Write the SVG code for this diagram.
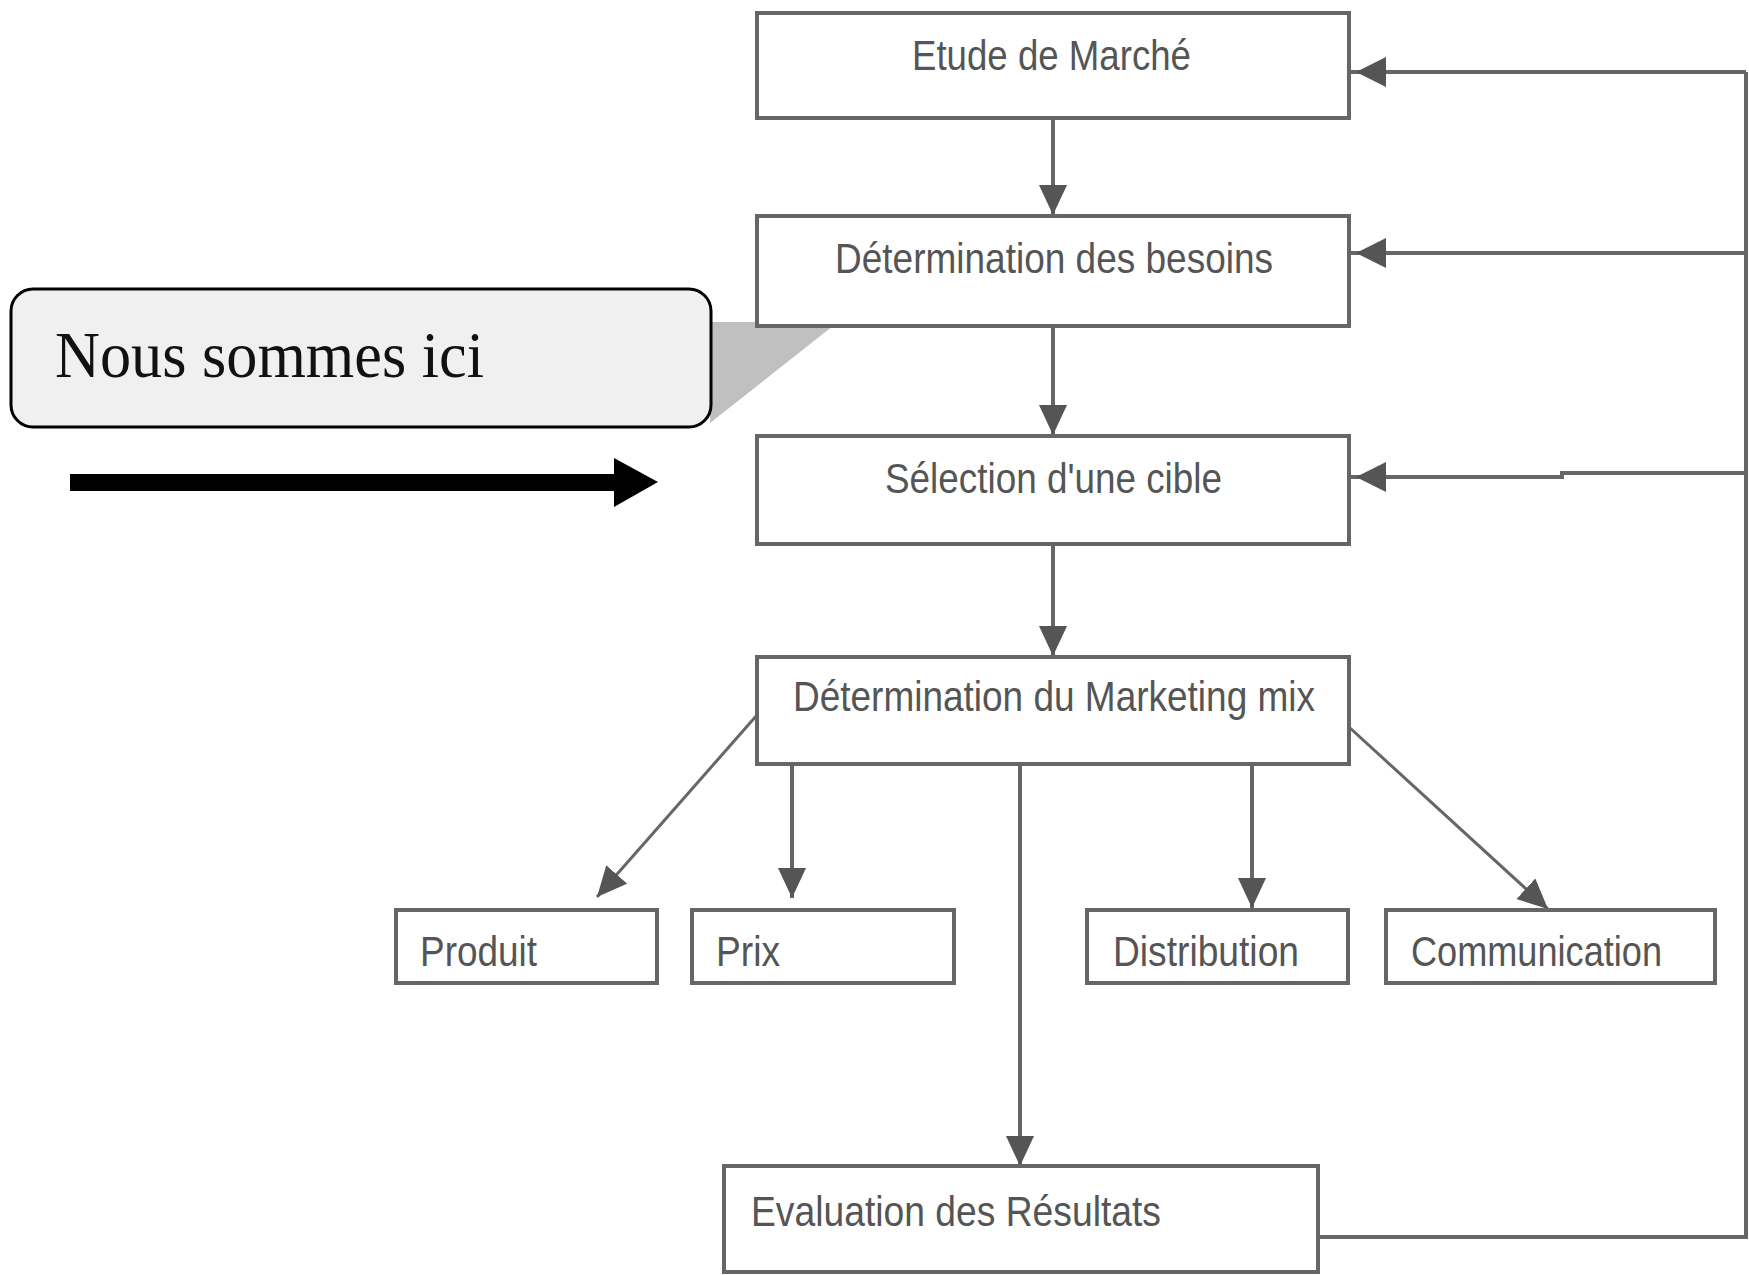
<svg xmlns="http://www.w3.org/2000/svg" width="1749" height="1275" viewBox="0 0 1749 1275">
  <defs>
    <style>
      .box { fill: #ffffff; stroke: #666666; stroke-width: 4; }
      .t { font-family: "Liberation Sans", Arial, sans-serif; font-size: 42px; fill: #555555; }
      .con { fill: none; stroke: #666666; stroke-width: 4; }
      .diag { fill: none; stroke: #666666; stroke-width: 3; }
    </style>
    <marker id="ah" markerUnits="userSpaceOnUse" markerWidth="40" markerHeight="30" refX="30" refY="14" orient="auto">
      <path d="M0,0 L30,14 L0,28 z" fill="#555555"/>
    </marker>
    <marker id="ahs" markerUnits="userSpaceOnUse" markerWidth="40" markerHeight="32" refX="36" refY="15" orient="auto">
      <path d="M0,0 L30,15 L0,30 z" fill="#555555"/>
    </marker>
  </defs>
  <rect width="1749" height="1275" fill="#ffffff"/>

  <g id="connectors">
    <line class="con" x1="1053" y1="118" x2="1053" y2="215" marker-end="url(#ah)"/>
    <line class="con" x1="1053" y1="326" x2="1053" y2="435" marker-end="url(#ah)"/>
    <line class="con" x1="1053" y1="544" x2="1053" y2="656" marker-end="url(#ah)"/>
    <line class="diag" x1="757" y1="715" x2="597" y2="897" marker-end="url(#ah)"/>
    <line class="con" x1="792" y1="764" x2="792" y2="898" marker-end="url(#ah)"/>
    <line class="con" x1="1020" y1="764" x2="1020" y2="1166" marker-end="url(#ah)"/>
    <line class="con" x1="1252" y1="764" x2="1252" y2="908" marker-end="url(#ah)"/>
    <line class="diag" x1="1350" y1="728" x2="1548" y2="909" marker-end="url(#ah)"/>
    <polyline class="con" points="1318,1237 1746,1237 1746,72"/>
    <line class="con" x1="1746" y1="72" x2="1350" y2="72" marker-end="url(#ahs)"/>
    <line class="con" x1="1746" y1="253" x2="1350" y2="253" marker-end="url(#ahs)"/>
    <polyline class="con" points="1746,473 1562,473 1562,477 1350,477" marker-end="url(#ahs)"/>
  </g>

  <g id="callout">
    <polygon points="710,322 838,322 710,423" fill="#c0c0c0"/>
    <rect x="11" y="289" width="700" height="138" rx="22" ry="22" fill="#f0f0f0" stroke="#000000" stroke-width="3"/>
    <text x="55" y="377" font-family="Liberation Serif, 'Times New Roman', serif" font-size="66" fill="#111111" textLength="429" lengthAdjust="spacingAndGlyphs">Nous sommes ici</text>
  </g>

  <g id="pointer-arrow">
    <rect x="70" y="474" width="546" height="17" fill="#000000"/>
    <polygon points="614,458 658,482 614,507" fill="#000000"/>
  </g>

  <g id="etude">
    <rect class="box" x="757" y="13" width="592" height="105"/>
    <text class="t" x="912" y="70" textLength="279" lengthAdjust="spacingAndGlyphs">Etude de Marché</text>
  </g>
  <g id="besoins">
    <rect class="box" x="757" y="216" width="592" height="110"/>
    <text class="t" x="835" y="273" textLength="438" lengthAdjust="spacingAndGlyphs">Détermination des besoins</text>
  </g>
  <g id="selection">
    <rect class="box" x="757" y="436" width="592" height="108"/>
    <text class="t" x="885" y="493" textLength="337" lengthAdjust="spacingAndGlyphs">Sélection d'une cible</text>
  </g>
  <g id="marketing-mix">
    <rect class="box" x="757" y="657" width="592" height="107"/>
    <text class="t" x="793" y="711" textLength="522" lengthAdjust="spacingAndGlyphs">Détermination du Marketing mix</text>
  </g>
  <g id="produit">
    <rect class="box" x="396" y="910" width="261" height="73"/>
    <text class="t" x="420" y="966" textLength="117" lengthAdjust="spacingAndGlyphs">Produit</text>
  </g>
  <g id="prix">
    <rect class="box" x="692" y="910" width="262" height="73"/>
    <text class="t" x="716" y="966" textLength="64" lengthAdjust="spacingAndGlyphs">Prix</text>
  </g>
  <g id="distribution">
    <rect class="box" x="1087" y="910" width="261" height="73"/>
    <text class="t" x="1113" y="966" textLength="186" lengthAdjust="spacingAndGlyphs">Distribution</text>
  </g>
  <g id="communication">
    <rect class="box" x="1386" y="910" width="329" height="73"/>
    <text class="t" x="1411" y="966" textLength="251" lengthAdjust="spacingAndGlyphs">Communication</text>
  </g>
  <g id="evaluation">
    <rect class="box" x="724" y="1166" width="594" height="106"/>
    <text class="t" x="751" y="1226" textLength="410" lengthAdjust="spacingAndGlyphs">Evaluation des Résultats</text>
  </g>
</svg>
